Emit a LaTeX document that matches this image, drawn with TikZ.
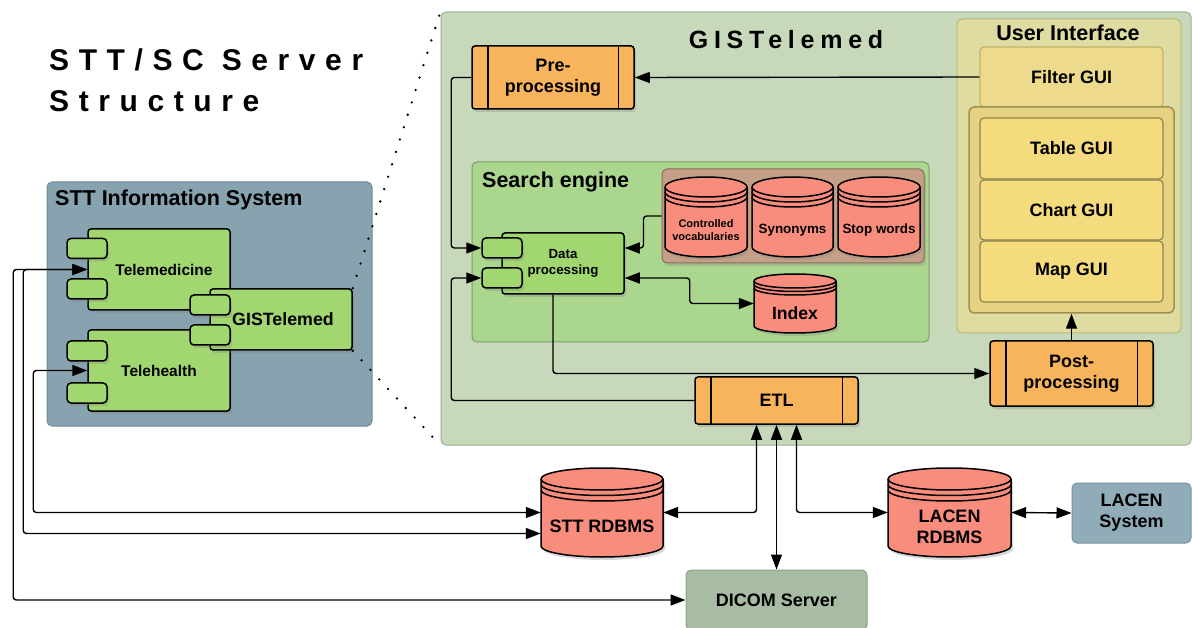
\documentclass[tikz,border=0pt]{standalone}
\usepackage{fontspec}
\setmainfont{Liberation Sans}
\newfontfamily\titlefont{Liberation Sans}[LetterSpace=32]
\newfontfamily\gisfont{Liberation Sans}[LetterSpace=23]
\usetikzlibrary{arrows.meta,shadows}

\definecolor{sttblue}{HTML}{87A3AF}
\definecolor{sttline}{HTML}{6F8B97}
\definecolor{gisgreen}{HTML}{C7D9BA}
\definecolor{gisline}{HTML}{9DAF92}
\definecolor{searchgreen}{HTML}{ABD68D}
\definecolor{searchline}{HTML}{7E9C6B}
\definecolor{vocabbrown}{HTML}{C5A088}
\definecolor{vocabline}{HTML}{8A6C58}
\definecolor{dbred}{HTML}{F98D7D}
\definecolor{compgreen}{HTML}{A1D670}
\definecolor{procorange}{HTML}{F8B45C}
\definecolor{uibox}{HTML}{DEDCA0}
\definecolor{uiline}{HTML}{BAB77F}
\definecolor{filteryellow}{HTML}{EDDA8C}
\definecolor{filterline}{HTML}{C2B46C}
\definecolor{guigroupfill}{HTML}{E6D283}
\definecolor{guigroupline}{HTML}{9E9053}
\definecolor{guiyellow}{HTML}{F3DB7E}
\definecolor{guiline}{HTML}{8F8250}
\definecolor{lacenblue}{HTML}{90ACB8}
\definecolor{lacenline}{HTML}{7892A0}
\definecolor{dicomgreen}{HTML}{A7BCA3}
\definecolor{dicomline}{HTML}{8CA188}

% database cylinder: [text options] name, x, y (centre), width, height, rim, text
\newcommand{\dbcyl}[8][]{%
  \filldraw[db] ({#3-#5/2},{#4-#6/2+#7}) -- ({#3-#5/2},{#4+#6/2-#7})
    arc[start angle=180,end angle=0,x radius=#5/2,y radius=#7]
    -- ({#3+#5/2},{#4-#6/2+#7})
    arc[start angle=0,end angle=-180,x radius=#5/2,y radius=#7] -- cycle;
  \foreach \k in {0,0.5,1}
    \draw[dbrim] ({#3-#5/2},{#4-#6/2+#7+\k*#7})
      arc[start angle=180,end angle=0,x radius=#5/2,y radius=#7];
  \node[inner sep=0pt,minimum width=#5,minimum height=#6] (#2) at (#3,#4) {};
  \node[dbtext,#1] (#2-txt) at ({#3},{#4+#7+3}) {#8};
}

\begin{document}
\begin{tikzpicture}[x=1pt, y=-1pt, font=\bfseries,
    >={Triangle[length=15pt,width=11pt]},
    softshadow/.style={drop shadow={opacity=0.3,shadow xshift=2pt,shadow yshift=-3pt}},
    bodyfont/.style={font=\bfseries\fontsize{18}{21}\selectfont},
    headfont/.style={font=\bfseries\fontsize{21.5}{24}\selectfont},
    area/.style={rounded corners=5pt, line width=1pt},
    comp/.style={draw, line width=1.5pt, fill=compgreen, rounded corners=3pt, softshadow, inner sep=0pt},
    tab/.style={comp, minimum width=40, minimum height=20, rounded corners=4pt},
    proc/.style={draw, line width=1.5pt, fill=procorange, rounded corners=3pt, softshadow, align=center, bodyfont},
    gui/.style={draw=guiline, line width=1.2pt, fill=guiyellow, rounded corners=4pt, minimum width=183, bodyfont},
    db/.style={line width=1.5pt, fill=dbred, softshadow},
    dbrim/.style={line width=1.5pt},
    dbtext/.style={align=center, bodyfont},
    conn/.style={line width=1.4pt, rounded corners=3pt},
    zoomline/.style={line width=2.6pt, line cap=round, dash pattern=on 0pt off 13pt}]
  \useasboundingbox[fill=white] (0,0) rectangle (1192,628);

  % Title
  \node[anchor=base west, inner sep=0pt, font=\titlefont\bfseries\fontsize{30}{36}\selectfont] (title1) at (49,70.5) {STT/SC Server};
  \node[anchor=base west, inner sep=0pt, font=\titlefont\bfseries\fontsize{30}{36}\selectfont] (title2) at (49,112) {Structure};

  % STT information system
  \node[area, fill=sttblue, draw=sttline, minimum width=325, minimum height=244] (stt) at (209.5,304) {};
  \node[anchor=base west, inner sep=0pt, headfont] (sttlabel) at (55,206) {STT Information System};

  % GISTelemed
  \node[area, fill=gisgreen, draw=gisline, minimum width=750, minimum height=433] (gis) at (816,228.5) {};
  \node[anchor=base, inner sep=0pt, font=\gisfont\bfseries\fontsize{25}{30}\selectfont] (gislabel) at (786,49) {GISTelemed};

  % User interface
  \node[area, fill=uibox, draw=uiline, minimum width=224, minimum height=314] (ui) at (1069,176) {};
  \node[anchor=base, inner sep=0pt, headfont] (uilabel) at (1068,41) {User Interface};
  \node[gui, fill=filteryellow, draw=filterline, minimum height=60] (filter) at (1071.5,77) {Filter GUI};
  \node[area, fill=guigroupfill, draw=guigroupline, line width=1.5pt, minimum width=205, minimum height=206] (guis) at (1071.5,210) {};
  \node[gui, minimum height=61] (tablegui) at (1071.5,148.5) {Table GUI};
  \node[gui, minimum height=60] (chartgui) at (1071.5,210) {Chart GUI};
  \node[gui, minimum height=61] (mapgui) at (1071.5,271.5) {Map GUI};

  % Search engine
  \node[area, fill=searchgreen, draw=searchline, minimum width=457, minimum height=180] (search) at (700.5,252) {};
  \node[anchor=base west, inner sep=0pt, headfont] (searchlabel) at (482,188) {Search engine};
  \node[area, fill=vocabbrown, draw=vocabline, softshadow, minimum width=262, minimum height=94] (vocab) at (793,216) {};
  \dbcyl[font=\bfseries\fontsize{11}{13}\selectfont]{ctrl}{706}{217}{82}{80}{10}{Controlled\\vocabularies}
  \dbcyl[font=\bfseries\fontsize{13.4}{16}\selectfont]{syn}{792.5}{217}{81}{80}{10}{Synonyms}
  \dbcyl[font=\bfseries\fontsize{13.4}{16}\selectfont]{stop}{879}{217}{82}{80}{10}{Stop words}
  \dbcyl[font=\bfseries\fontsize{17.6}{20}\selectfont]{index}{795}{303.5}{82}{59}{7}{Index}
  \node[comp, minimum width=122, minimum height=61, align=center, font=\bfseries\fontsize{13.3}{16}\selectfont] (dproc) at (563,263.5) {Data\\processing};
  \node[tab] (dtab1) at (502,248) {};
  \node[tab] (dtab2) at (502,278) {};

  % Processing steps
  \node[proc, minimum width=162, minimum height=63] (pre) at (553,77.5) {Pre-\\processing};
  \node[proc, minimum width=163, minimum height=47] (etl) at (776.5,400.5) {ETL};
  \node[proc, minimum width=163, minimum height=65] (post) at (1071.5,373.5) {Post-\\processing};
  \foreach \n in {pre,etl,post}
    \draw[line width=1.5pt] ([xshift=16.5pt]\n.north west) -- ([xshift=16.5pt]\n.south west)
      ([xshift=-16.5pt]\n.north east) -- ([xshift=-16.5pt]\n.south east);

  % Components of the STT system
  \node[comp, minimum width=142, minimum height=81, font=\bfseries\fontsize{15.5}{18}\selectfont] (tmed) at (159,269.5) {\hspace{10pt}Telemedicine};
  \node[tab] (tmedtab1) at (87,248.5) {};
  \node[tab] (tmedtab2) at (87,289) {};
  \node[comp, minimum width=142, minimum height=81, font=\bfseries\fontsize{15.5}{18}\selectfont] (thealth) at (159,370.5) {Telehealth};
  \node[tab] (thtab1) at (87,351) {};
  \node[tab] (thtab2) at (87,393) {};
  \node[comp, minimum width=142, minimum height=61, font=\bfseries\fontsize{17.8}{20}\selectfont] (gcomp) at (281,319.5) {\hspace{4pt}GISTelemed};
  \node[tab] (gtab1) at (210,305) {};
  \node[tab] (gtab2) at (210,335) {};

  % Zoom lines
  \draw[zoomline] (gcomp.north east) -- (gis.north west);
  \draw[zoomline] (gcomp.south east) -- (gis.south west);

  % Data stores and external systems
  \dbcyl{sttdb}{602}{512.5}{122}{89}{11}{STT RDBMS}
  \dbcyl{lacendb}{949.5}{512.5}{123}{89}{11}{LACEN\\RDBMS}
  \node[area, fill=lacenblue, draw=lacenline, minimum width=119, minimum height=60, align=center, bodyfont] (lacen) at (1131.5,513) {LACEN\\System};
  \node[area, fill=dicomgreen, draw=dicomline, minimum width=181, minimum height=60, bodyfont] (dicom) at (776.5,600) {DICOM Server};

  % Connectors
  \draw[conn,->] (filter.west) -- (pre.east);
  \draw[conn,->] (pre.west) -- ++(-20,0) |- (dtab1.west);
  \draw[conn,->] (etl.west) -- ++(-243,0) |- (dtab2.west);
  \draw[conn,->] (vocab.west) -- ++(-18,0) |- ([yshift=15.5pt]dproc.east);
  \draw[conn,<->] ([yshift=-14.5pt]dproc.east) -- ++(65,0) |- (index.west);
  \draw[conn,->] ([xshift=-10pt]dproc.south) |- (post.west);
  \draw[conn,->] (post.north) -- (guis.south);
  \draw[conn,<->] ([xshift=-20pt]etl.south) |- (sttdb.east);
  \draw[conn,<->] (etl.south) -- (dicom.north);
  \draw[conn,<->] ([xshift=20pt]etl.south) |- (lacendb.west);
  \draw[conn,<->] (lacendb.east) -- (lacen.west);
  \draw[conn,<->] (tmed.west) -- ++(-74,0) |- (dicom.west);
  \draw[conn,<->] (tmed.west) -- ++(-64,0) |- ([yshift=-21pt]sttdb.west);
  \draw[conn,<->] (thealth.west) -- ++(-54,0) |- (sttdb.west);
\end{tikzpicture}
\end{document}
